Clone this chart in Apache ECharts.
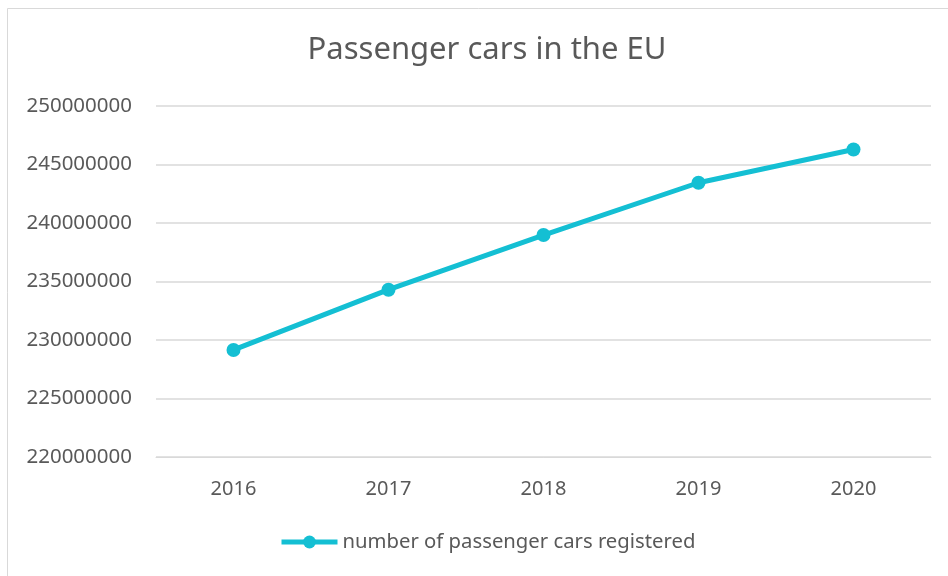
<!DOCTYPE html>
<html>
<head>
    <meta charset="utf-8">
    <title>Passenger cars in the EU</title>
    <script src="https://cdn.jsdelivr.net/npm/echarts@6/dist/echarts.min.js"></script>
    <style>
        body { margin: 0; background: #fff; }
        #main { width: 948px; height: 576px; }
    </style>
</head>
<body>
    <div id="main"></div>
    <script type="text/javascript">
        // data
        var years = ['2016', '2017', '2018', '2019', '2020'];
        var cars = [229150000, 234300000, 238970000, 243440000, 246280000];
        var seriesName = 'number of passenger cars registered';

        var lineColor = '#14BFD3';
        var textColor = '#595959';
        var font = 'Noto Sans';

        var chart = echarts.init(document.getElementById('main'));
        var option = {
            backgroundColor: '#fff',
            title: {
                text: 'Passenger cars in the EU',
                left: 482,
                textAlign: 'center',
                top: 30,
                textStyle: { fontFamily: font, fontSize: 31, fontWeight: 'normal', color: textColor }
            },
            graphic: [{
                type: 'rect',
                shape: { x: 7.5, y: 8.5, width: 960, height: 600 },
                style: { fill: 'none', stroke: '#d9d9d9', lineWidth: 1 },
                silent: true
            }],
            legend: {
                data: [{
                    name: seriesName,
                    itemStyle: { color: lineColor },
                    lineStyle: { color: lineColor, width: 5 }
                }],
                left: 274,
                top: 527,
                itemWidth: 56,
                itemHeight: 16,
                textStyle: { fontFamily: font, fontSize: 20.3, color: textColor }
            },
            grid: { left: 156, right: 17, top: 106, bottom: 119 },
            xAxis: {
                type: 'category',
                data: years,
                axisLine: { lineStyle: { color: '#d9d9d9' } },
                axisTick: { show: false },
                axisLabel: { fontFamily: font, fontSize: 20, color: textColor, margin: 22 }
            },
            yAxis: {
                type: 'value',
                min: 220000000,
                max: 250000000,
                interval: 5000000,
                axisLine: { show: false },
                axisTick: { show: false },
                splitLine: { lineStyle: { color: '#d9d9d9', width: 1.5 } },
                axisLabel: {
                    fontFamily: font, fontSize: 20.5, color: textColor, margin: 24,
                    formatter: function (v) { return String(v); }
                }
            },
            series: [{
                name: seriesName,
                type: 'line',
                data: cars,
                symbol: 'circle',
                symbolSize: 14,
                lineStyle: { color: lineColor, width: 5 },
                itemStyle: { color: lineColor }
            }]
        };
        chart.setOption(option);
    </script>
</body>
</html>
